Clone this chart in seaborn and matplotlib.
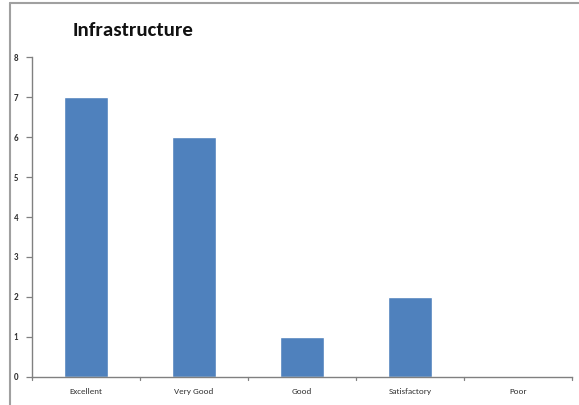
import matplotlib
matplotlib.use("Agg")
import matplotlib.pyplot as plt
import seaborn as sns
import pandas as pd
from matplotlib.lines import Line2D

categories = ["Excellent", "Very Good", "Good", "Satisfactory", "Poor"]
values = [7, 6, 1, 2, 0]
yticks = [0, 1, 2, 3, 4, 5, 6, 7, 8]

sns.set_style("white")
plt.rcParams['font.family'] = ['Carlito', 'Liberation Sans', 'DejaVu Sans']

W, H = 579, 405
fig = plt.figure(figsize=(W / 100, H / 100), dpi=100)
ax = fig.add_axes([32 / W, (H - 377) / H, (572 - 32) / W, (377 - 57) / H])

df = pd.DataFrame({"category": categories, "value": values})
sns.barplot(data=df, x="category", y="value", color="#4f81bd", width=0.41,
            saturation=1, ax=ax)

ax.set_ylim(0, 8)
ax.set_xlim(-0.5, len(categories) - 0.5)
ax.set_yticks(yticks)
ax.set_yticklabels([str(t) for t in yticks], fontsize=6.5, fontweight="bold", color="#333333")
ax.set_xlabel("")
ax.set_ylabel("")
ax.set_xticks(range(len(categories)))
ax.set_xticklabels(categories, fontsize=6.5, color="#333333")
ax.tick_params(axis="x", length=0, pad=8)
ax.tick_params(axis="y", length=4, width=0.9, color="#808080", direction="out", pad=6, left=True)

# category boundary ticks on x axis
for b in [i - 0.5 for i in range(len(categories) + 1)]:
    ax.plot([b, b], [0, -0.08], color="#808080", lw=0.9, clip_on=False,
            transform=ax.transData)

for s in ["top", "right"]:
    ax.spines[s].set_visible(False)
for s in ["left", "bottom"]:
    ax.spines[s].set_color("#808080")
    ax.spines[s].set_linewidth(1.0)

fig.text(73 / W, 1 - 31 / H, "Infrastructure", fontsize=15, fontweight="bold",
         color="#111111", ha="left", va="center")

# outer frame lines (top and left)
fig.add_artist(Line2D([10 / W, 10 / W], [0, 1 - 3 / H], transform=fig.transFigure,
                      color="#a0a0a0", lw=1.5))
fig.add_artist(Line2D([10 / W, 1], [1 - 3 / H, 1 - 3 / H], transform=fig.transFigure,
                      color="#a0a0a0", lw=1.5))

fig.savefig("out.png", dpi=100)
